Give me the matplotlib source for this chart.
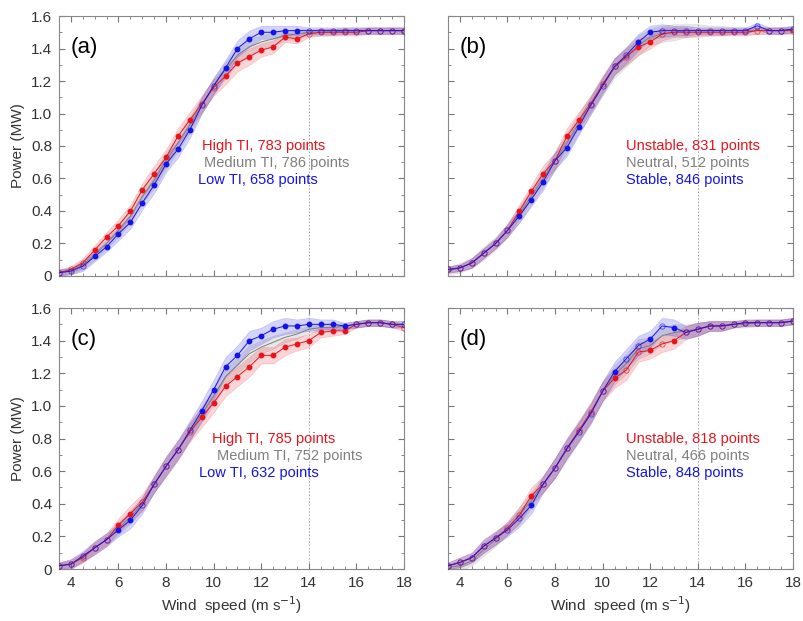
import numpy as np
from matplotlib import pyplot as plt
from matplotlib.ticker import MultipleLocator, FuncFormatter

plt.rcParams['font.family'] = ['Liberation Sans', 'DejaVu Sans']

wind_speed = [3.5, 4, 4.5, 5, 5.5, 6, 6.5, 7, 7.5, 8, 8.5, 9, 9.5, 10, 10.5,
              11, 11.5, 12, 12.5, 13, 13.5, 14, 14.5, 15, 15.5, 16, 16.5, 17, 17.5, 18]

# panel (a): turbulence intensity classes
high_a = [0.02, 0.04, 0.08, 0.16, 0.24, 0.31, 0.40, 0.53, 0.63, 0.73, 0.86, 0.96, 1.06, 1.16, 1.23,
          1.31, 1.35, 1.39, 1.41, 1.47, 1.46, 1.49, 1.50, 1.50, 1.50, 1.50, 1.51, 1.51, 1.51, 1.51]
med_a = [0.02, 0.03, 0.07, 0.13, 0.20, 0.28, 0.37, 0.49, 0.59, 0.71, 0.82, 0.93, 1.05, 1.17, 1.27,
         1.36, 1.41, 1.44, 1.46, 1.48, 1.49, 1.50, 1.50, 1.50, 1.51, 1.51, 1.51, 1.51, 1.51, 1.51]
low_a = [0.02, 0.03, 0.06, 0.12, 0.18, 0.26, 0.33, 0.45, 0.56, 0.69, 0.78, 0.90, 1.05, 1.17, 1.28,
         1.40, 1.46, 1.50, 1.50, 1.51, 1.51, 1.51, 1.51, 1.51, 1.51, 1.51, 1.51, 1.51, 1.51, 1.51]
sig_a = [3, 4, 5, 6, 7, 8, 9, 10, 11, 14, 15, 16, 17, 18, 19, 20]

# panel (b): stability classes
high_b = [0.04, 0.05, 0.08, 0.14, 0.20, 0.28, 0.40, 0.52, 0.63, 0.71, 0.86, 0.96, 1.06, 1.18, 1.29,
          1.35, 1.41, 1.44, 1.49, 1.50, 1.50, 1.50, 1.50, 1.50, 1.50, 1.50, 1.51, 1.51, 1.51, 1.51]
med_b = [0.03, 0.05, 0.08, 0.14, 0.20, 0.28, 0.38, 0.49, 0.60, 0.71, 0.82, 0.94, 1.05, 1.17, 1.28,
         1.35, 1.42, 1.47, 1.49, 1.50, 1.51, 1.51, 1.51, 1.51, 1.51, 1.51, 1.51, 1.51, 1.51, 1.52]
low_b = [0.04, 0.05, 0.08, 0.14, 0.20, 0.28, 0.37, 0.47, 0.58, 0.71, 0.79, 0.92, 1.05, 1.17, 1.29,
         1.36, 1.44, 1.50, 1.51, 1.51, 1.51, 1.51, 1.51, 1.51, 1.51, 1.51, 1.54, 1.51, 1.51, 1.52]
sig_b = [6, 7, 8, 10, 11, 16, 17]

# panel (c): turbulence intensity classes
high_c = [0.02, 0.03, 0.07, 0.13, 0.18, 0.27, 0.34, 0.41, 0.52, 0.63, 0.73, 0.84, 0.93, 1.02, 1.12,
          1.18, 1.24, 1.31, 1.31, 1.36, 1.38, 1.40, 1.45, 1.46, 1.46, 1.50, 1.51, 1.51, 1.50, 1.48]
med_c = [0.02, 0.03, 0.07, 0.13, 0.18, 0.25, 0.32, 0.40, 0.52, 0.63, 0.73, 0.84, 0.95, 1.06, 1.18,
         1.25, 1.32, 1.36, 1.39, 1.42, 1.44, 1.47, 1.48, 1.48, 1.49, 1.50, 1.51, 1.51, 1.50, 1.50]
low_c = [0.02, 0.03, 0.08, 0.13, 0.18, 0.24, 0.30, 0.39, 0.52, 0.63, 0.73, 0.85, 0.97, 1.10, 1.24,
         1.31, 1.40, 1.43, 1.47, 1.49, 1.49, 1.50, 1.50, 1.50, 1.49, 1.50, 1.51, 1.51, 1.50, 1.50]
sig_c = [5, 6, 12, 13, 14, 15, 16, 17, 18, 19, 20, 21, 22, 23, 24]

# panel (d): stability classes
high_d = [0.02, 0.04, 0.07, 0.14, 0.19, 0.25, 0.33, 0.45, 0.52, 0.62, 0.74, 0.85, 0.96, 1.09, 1.17,
          1.22, 1.33, 1.34, 1.38, 1.40, 1.45, 1.47, 1.49, 1.49, 1.50, 1.51, 1.51, 1.51, 1.51, 1.52]
med_d = [0.01, 0.02, 0.05, 0.12, 0.18, 0.25, 0.33, 0.42, 0.52, 0.62, 0.73, 0.84, 0.96, 1.09, 1.19,
         1.26, 1.35, 1.37, 1.43, 1.45, 1.46, 1.47, 1.49, 1.49, 1.50, 1.50, 1.51, 1.51, 1.51, 1.52]
low_d = [0.02, 0.04, 0.07, 0.14, 0.19, 0.24, 0.31, 0.39, 0.52, 0.62, 0.74, 0.84, 0.95, 1.09, 1.21,
         1.29, 1.37, 1.41, 1.49, 1.48, 1.45, 1.47, 1.49, 1.49, 1.50, 1.51, 1.51, 1.51, 1.51, 1.52]
sig_d = [7, 14, 17, 19]

# half widths of the shaded bands
band_small = [0.02, 0.02, 0.03, 0.03, 0.03, 0.04, 0.04, 0.04, 0.05, 0.05, 0.05, 0.05, 0.05, 0.05, 0.05,
              0.05, 0.05, 0.04, 0.04, 0.03, 0.03, 0.02, 0.02, 0.02, 0.02, 0.02, 0.02, 0.02, 0.02, 0.02]
band_large = [0.02, 0.03, 0.03, 0.04, 0.04, 0.04, 0.05, 0.05, 0.05, 0.06, 0.06, 0.06, 0.06, 0.06, 0.06,
              0.06, 0.06, 0.05, 0.05, 0.05, 0.04, 0.04, 0.03, 0.03, 0.02, 0.02, 0.02, 0.02, 0.02, 0.02]

labels_ti_a = ["High TI, 783 points", "Medium TI, 786 points", "Low TI, 658 points"]
labels_st_b = ["Unstable, 831 points", "Neutral, 512 points", "Stable, 846 points"]
labels_ti_c = ["High TI, 785 points", "Medium TI, 752 points", "Low TI, 632 points"]
labels_st_d = ["Unstable, 818 points", "Neutral, 466 points", "Stable, 848 points"]

RED = "#e8141c"
GRAY = "#7f7f7f"
BLUE = "#1414e6"


def ylabel_fmt(v, pos):
    if abs(v) < 1e-9:
        return "0"
    return "%.1f" % v


def panel(ax, high, med, low, sig, labels, text_x, tag, bands):
    x = np.array(wind_speed)
    series = [(np.array(med), GRAY, bands[1]), (np.array(high), RED, bands[0]), (np.array(low), BLUE, bands[2])]
    for y, c, b in series:
        b = np.array(b)
        ax.fill_between(x, y - b, y + b, facecolor=c, alpha=0.18, edgecolor=c, linewidth=0.5)
    for y, c, b in series:
        ax.plot(x, y, color=c, lw=0.7, zorder=3)
    filled = np.zeros(len(x), dtype=bool)
    filled[sig] = True
    for y, c, b in series[1:]:
        ax.plot(x[filled], y[filled], "o", color=c, ms=3.2, zorder=4)
        ax.plot(x[~filled], y[~filled], "o", mfc="none", mec=c, mew=0.6, ms=3.8, alpha=0.7, zorder=4)

    ax.axvline(14, color="#999999", ls=(0, (2, 2)), lw=0.6, zorder=1)
    ax.set_xlim(3.5, 18)
    ax.set_ylim(0, 1.6)
    ax.xaxis.set_major_locator(MultipleLocator(2))
    ax.xaxis.set_minor_locator(MultipleLocator(0.5))
    ax.yaxis.set_major_locator(MultipleLocator(0.2))
    ax.yaxis.set_minor_locator(MultipleLocator(0.1))
    ax.yaxis.set_major_formatter(FuncFormatter(ylabel_fmt))
    ax.tick_params(which="both", direction="in", top=True, right=True, colors="#777777",
                   labelcolor="#333333", labelsize=11)
    ax.tick_params(which="major", length=4, pad=5)
    ax.tick_params(which="minor", length=2)
    for s in ax.spines.values():
        s.set_color("#888888")
        s.set_linewidth(0.8)

    ax.text(0.035, 0.92, tag, transform=ax.transAxes, fontsize=16, va="top", ha="left")
    for lab, c, tx, ty in zip(labels, [RED, GRAY, BLUE], text_x, [0.80, 0.695, 0.59]):
        ax.text(tx, ty, lab, color=c, fontsize=10.5, va="center", ha="left")


fig = plt.figure(figsize=(8.04, 6.21), dpi=100)
ax_a = fig.add_axes([0.0734, 0.5556, 0.4291, 0.4186])
ax_b = fig.add_axes([0.5572, 0.5556, 0.4291, 0.4186])
ax_c = fig.add_axes([0.0734, 0.0837, 0.4291, 0.4203])
ax_d = fig.add_axes([0.5572, 0.0837, 0.4291, 0.4203])

panel(ax_a, high_a, med_a, low_a, sig_a, labels_ti_a, [9.5, 9.6, 9.35], "(a)", [band_small, band_small, band_small])
panel(ax_b, high_b, med_b, low_b, sig_b, labels_st_b, [11.0, 11.0, 11.0], "(b)", [band_small, band_large, band_small])
panel(ax_c, high_c, med_c, low_c, sig_c, labels_ti_c, [9.95, 10.15, 9.4], "(c)", [band_large, band_small, band_large])
panel(ax_d, high_d, med_d, low_d, sig_d, labels_st_d, [11.0, 11.0, 11.0], "(d)", [band_large, band_large, band_large])

for ax in [ax_a, ax_b]:
    ax.tick_params(labelbottom=False)
for ax in [ax_b, ax_d]:
    ax.tick_params(labelleft=False)
for ax in [ax_a, ax_c]:
    ax.set_ylabel("Power (MW)", fontsize=11, color="#333333", labelpad=4)
for ax in [ax_c, ax_d]:
    ax.set_xlabel("Wind  speed (m s$^{-1}$)", fontsize=11, color="#333333", labelpad=3)

fig.savefig("out.png", dpi=100)
